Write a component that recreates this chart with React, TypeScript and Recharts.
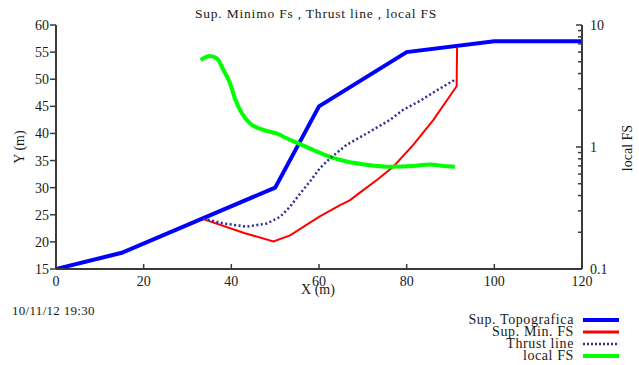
import { ComposedChart, Line, XAxis, YAxis } from "recharts";

// Sup. Topografica
const topoX = [0, 15, 50, 60, 80, 100, 120];
const topoY = [15, 18, 30, 45, 55, 57, 57];

// Sup. Min. FS
const minX = [33.6, 43.1, 49.6, 53.4, 60, 64.8, 67.1, 70, 73.2, 77, 81.5, 86.1, 91.4, 91.5];
const minY = [24.2, 21.6, 20.1, 21.2, 24.6, 26.8, 27.7, 29.5, 31.4, 33.9, 37.9, 42.5, 48.7, 55.8];

// Thrust line
const thrustX = [33.6, 38.2, 43.5, 48.1, 51.1, 53.4, 55.7, 58, 60.2, 62.5, 66.3, 70.9, 76.2, 79.1, 83, 87, 91];
const thrustY = [24.3, 23.4, 22.8, 23.4, 24.6, 26.5, 28.9, 31.2, 33.6, 35.4, 37.9, 40, 42.5, 44.3, 46, 48, 49.9];

// local FS (right log axis)
const fsX = [33, 35.1, 36.7, 38.2, 39.7, 40.8, 42.4, 44.3, 47.3, 50.4, 52.6, 55.3, 58.7, 62.5, 66.3, 71.6, 76.2, 81.5, 85.3, 88.4, 91];
const fsY = [5.17, 5.57, 5.33, 4.28, 3.33, 2.51, 1.89, 1.56, 1.38, 1.29, 1.18, 1.07, 0.945, 0.83, 0.76, 0.71, 0.69, 0.7, 0.72, 0.7, 0.69];

const xTicks = [0, 20, 40, 60, 80, 100, 120];
const yTicks = [15, 20, 25, 30, 35, 40, 45, 50, 55, 60];
const fsTicks = [0.1, 0.2, 0.3, 0.4, 0.5, 0.6, 0.7, 0.8, 0.9, 1, 2, 3, 4, 5, 6, 7, 8, 9, 10];
const fsLabels = [0.1, 1, 10];

const legendItems = [
  { name: "Sup. Topografica", color: "#0000ff", width: 4, dash: undefined },
  { name: "Sup. Min. FS", color: "#ff0000", width: 3, dash: undefined },
  { name: "Thrust line", color: "#2e2e96", width: 2.5, dash: "2 2" },
  { name: "local FS", color: "#00ff00", width: 4, dash: undefined },
];

const toPoints = (xs: number[], ys: number[]) => xs.map((x, i) => ({ x, y: ys[i] }));

const FONT = "'Liberation Serif', 'Times New Roman', serif";
const AXIS = "#3a3a3a";
const TEXT = "#1a1a1a";

function BottomTick({ x, y, payload }: any) {
  const ay = y - 8;
  return (
    <g>
      <line x1={x} x2={x} y1={ay} y2={ay - 5} stroke={AXIS} strokeWidth={1.5} />
      <text x={x} y={y - 1} dy="0.71em" textAnchor="middle" fontSize={14} fontFamily={FONT} fill={TEXT}>
        {payload.value}
      </text>
    </g>
  );
}

function TopTick({ x, y }: any) {
  const ay = y + 8;
  return <line x1={x} x2={x} y1={ay} y2={ay + 5} stroke={AXIS} strokeWidth={1.5} />;
}

function RightTick({ x, y, payload }: any) {
  const ax = x - 8;
  const major = fsLabels.includes(payload.value);
  return (
    <g>
      <line x1={ax} x2={ax - (major ? 6 : 4)} y1={y} y2={y} stroke={AXIS} strokeWidth={1.5} />
      {major && (
        <text x={x} y={y} dy="0.355em" textAnchor="start" fontSize={14} fontFamily={FONT} fill={TEXT}>
          {payload.value}
        </text>
      )}
    </g>
  );
}

const abs = (left: number, top: number, extra: any = {}) => ({
  position: "absolute" as const,
  left,
  top,
  fontFamily: FONT,
  color: TEXT,
  whiteSpace: "nowrap" as const,
  lineHeight: 1,
  ...extra,
});

export default function App() {
  return (
    <div style={{ position: "absolute", left: 0, top: 0, width: 639, height: 365, background: "#fff" }}>
      <ComposedChart width={639} height={365} margin={{ top: 25, right: 0, bottom: 0, left: 0 }}>
        <XAxis
          type="number"
          dataKey="x"
          domain={[0, 120]}
          ticks={xTicks}
          height={96}
          axisLine={{ stroke: AXIS, strokeWidth: 2 }}
          tickLine={false}
          tickSize={6}
          tickMargin={2}
          tick={<BottomTick />}
          allowDataOverflow
        />
        <XAxis
          xAxisId="top"
          orientation="top"
          type="number"
          dataKey="x"
          domain={[0, 120]}
          ticks={xTicks}
          height={0}
          axisLine={{ stroke: AXIS, strokeWidth: 2 }}
          tickLine={false}
          tickSize={6}
          tickMargin={2}
          tick={<TopTick />}
          allowDataOverflow
        />
        <YAxis
          yAxisId="left"
          type="number"
          domain={[15, 60]}
          ticks={yTicks}
          width={56}
          axisLine={{ stroke: AXIS, strokeWidth: 2 }}
          tickLine={{ stroke: AXIS, strokeWidth: 1.5 }}
          tickSize={6}
          tickMargin={1}
          tick={{ fontSize: 14, fontFamily: FONT, fill: TEXT }}
          allowDataOverflow
        />
        <YAxis
          yAxisId="right"
          orientation="right"
          type="number"
          scale="log"
          domain={[0.1, 10]}
          ticks={fsTicks}
          width={57}
          axisLine={{ stroke: AXIS, strokeWidth: 2 }}
          tickLine={false}
          tickSize={6}
          tickMargin={2}
          tick={<RightTick />}
          interval={0}
          allowDataOverflow
        />
        <Line
          yAxisId="left"
          data={toPoints(topoX, topoY)}
          dataKey="y"
          type="linear"
          stroke="#0000ff"
          strokeWidth={4}
          dot={false}
          isAnimationActive={false}
        />
        <Line
          yAxisId="left"
          data={toPoints(minX, minY)}
          dataKey="y"
          type="linear"
          stroke="#ff0000"
          strokeWidth={2}
          dot={false}
          isAnimationActive={false}
        />
        <Line
          yAxisId="right"
          data={toPoints(fsX, fsY)}
          dataKey="y"
          type="monotone"
          stroke="#00ff00"
          strokeWidth={4}
          dot={false}
          isAnimationActive={false}
        />
        <Line
          yAxisId="left"
          data={toPoints(thrustX, thrustY)}
          dataKey="y"
          type="linear"
          stroke="#2e2e96"
          strokeWidth={2.5}
          strokeDasharray="2 2.5"
          dot={false}
          isAnimationActive={false}
        />
      </ComposedChart>

      <div style={abs(316, 7, { transform: "translateX(-50%)", fontSize: 13.5, letterSpacing: 0.8 })}>
        Sup. Minimo Fs , Thrust line , local FS
      </div>
      <div style={abs(318, 283, { transform: "translateX(-50%)", fontSize: 14 })}>X (m)</div>
      <div style={abs(20, 147, { transform: "translate(-50%, -50%) rotate(-90deg)", fontSize: 14 })}>Y (m)</div>
      <div style={abs(628, 148, { transform: "translate(-50%, -50%) rotate(-90deg)", fontSize: 14 })}>
        local FS
      </div>
      <div style={abs(12, 304, { fontSize: 13, letterSpacing: 0.3 })}>10/11/12 19:30</div>

      <div style={{ position: "absolute", right: 20, top: 314 }}>
        {legendItems.map((it) => (
          <div key={it.name} style={{ display: "flex", alignItems: "center", justifyContent: "flex-end", height: 12 }}>
            <span style={{ fontFamily: FONT, fontSize: 14, letterSpacing: 0.6, color: TEXT, lineHeight: 1 }}>
              {it.name}
            </span>
            <svg width={36} height={8} style={{ marginLeft: 9 }}>
              <line
                x1={0}
                x2={36}
                y1={4}
                y2={4}
                stroke={it.color}
                strokeWidth={it.width}
                strokeDasharray={it.dash}
              />
            </svg>
          </div>
        ))}
      </div>
    </div>
  );
}
